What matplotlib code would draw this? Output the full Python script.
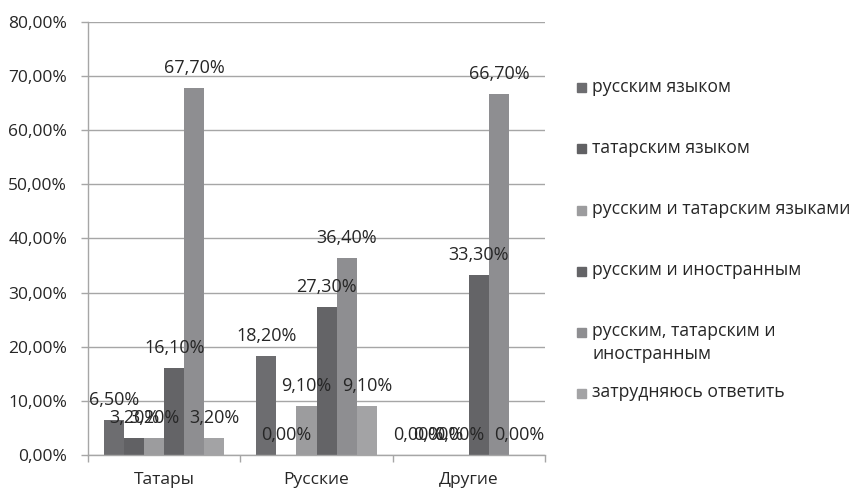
import matplotlib.pyplot as plt
import numpy as np

groups = ['Татары', 'Русские', 'Другие']
series = ['русским языком', 'татарским языком', 'русским и татарским языками',
          'русским и иностранным', 'русским, татарским и\nиностранным',
          'затрудняюсь ответить']
values = [
    [6.5, 18.2, 0.0],
    [3.2, 0.0, 0.0],
    [3.2, 9.1, 0.0],
    [16.1, 27.3, 33.3],
    [67.7, 36.4, 66.7],
    [3.2, 9.1, 0.0],
]
colors = ['#6d6d70', '#616164', '#9c9c9e', '#646467', '#8e8e91', '#a3a3a5']

plt.rcParams['font.family'] = ['Open Sans', 'DejaVu Sans']
txt = '#262626'
grid = '#a6a6a6'

fig = plt.figure(figsize=(8.52, 4.9), dpi=100)
ax = fig.add_axes([88 / 852, 1 - 455 / 490, (545 - 88) / 852, (455 - 21.7) / 490])

x = np.arange(len(groups))
w = 0.132
for i, (vals, c) in enumerate(zip(values, colors)):
    pos = x + (i - 2.5) * w
    ax.bar(pos, vals, width=w, color=c, zorder=2)
    for px, v in zip(pos, vals):
        ax.annotate(f'{v:.2f}%'.replace('.', ','), (px, v), xytext=(0, 14.4),
                    textcoords='offset points', ha='center', va='center',
                    fontsize=13, color=txt, zorder=3)

ax.set_xlim(-0.5, 2.5)
ax.set_ylim(0, 80)
ax.set_yticks(np.arange(0, 81, 10))
ax.set_yticklabels([f'{t},00%' for t in range(0, 81, 10)])
ax.yaxis.grid(True, color=grid, linewidth=1, zorder=0)
ax.set_xticks(x)
ax.set_xticklabels(groups)
ax.set_xticks([-0.5, 0.5, 1.5, 2.5], minor=True)
ax.tick_params(axis='x', which='major', length=0, pad=12, labelsize=12.5, colors=txt)
ax.tick_params(axis='x', which='minor', length=5, color=grid, width=1)
ax.tick_params(axis='y', length=5, color=grid, width=1, pad=10, labelsize=12.5,
               labelcolor=txt)
for s in ['top', 'right']:
    ax.spines[s].set_visible(False)
for s in ['left', 'bottom']:
    ax.spines[s].set_color(grid)
    ax.spines[s].set_linewidth(1)

# legend drawn by hand, first lines evenly spaced like the original
for i, (lab, c) in enumerate(zip(series, colors)):
    yc = 88 + 61 * i
    fig.patches.append(plt.Rectangle((577 / 852, 1 - (yc + 4.5) / 490), 9 / 852, 9 / 490,
                                     transform=fig.transFigure, color=c, figure=fig))
    fig.text(592 / 852, 1 - (yc - 10) / 490, lab, fontsize=12.7, color=txt,
             va='top', ha='left', linespacing=1.35)

fig.savefig('out.png', dpi=100)
